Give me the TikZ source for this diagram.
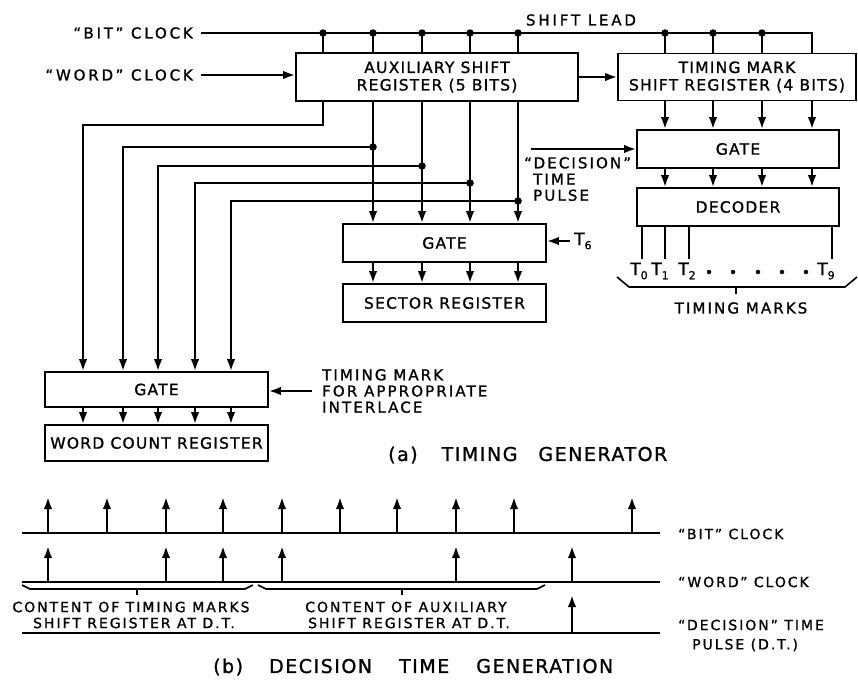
\documentclass[tikz,border=0pt]{standalone}
\usepackage{fontspec}
\setmainfont{DejaVu Sans}[LetterSpace=8,FakeBold=1.2]
\newfontfamily\boxfont{DejaVu Sans}[LetterSpace=8,FakeBold=1.2]
\newfontfamily\lblfont{DejaVu Sans}[LetterSpace=14,FakeBold=1.2]
\newfontfamily\bigfont{DejaVu Sans}[LetterSpace=19,FakeBold=1.2]
\usetikzlibrary{arrows.meta}
\newcommand\tsub[2]{#1\raisebox{-0.45ex}{\fontsize{11}{11}\selectfont #2}}
\begin{document}
\begin{tikzpicture}[x=1pt,y=-1pt,
  box/.style={draw, line width=1.6pt, inner sep=0pt, align=center, font=\boxfont\fontsize{15.5}{17.5}\selectfont},
  lbl/.style={inner sep=0pt, align=left, font=\lblfont\fontsize{15}{16.2}\selectfont},
  blbl/.style={inner sep=0pt, align=left, font=\lblfont\fontsize{14}{16}\selectfont},
  biglbl/.style={inner sep=0pt, align=left, font=\bigfont\fontsize{15}{17}\selectfont},
  tlab/.style={inner sep=0pt, font=\fontsize{17}{17}\selectfont},
  ttl/.style={inner sep=0pt, font=\fontsize{19}{21}\selectfont},
  wire/.style={line width=2.3pt},
  arr/.style={wire, -{Latex[length=12pt,width=8.5pt]}},
  thinln/.style={line width=1.6pt},
  jdot/.style={circle, fill, inner sep=0pt, minimum size=7.5pt},
  sdot/.style={circle, fill, inner sep=0pt, minimum size=4.5pt}]
\useasboundingbox (0,0) rectangle (858,680);

% ---------- boxes ----------
\node[box, minimum width=282pt, minimum height=48pt] (aux) at (437,77) {AUXILIARY SHIFT\\REGISTER (5 BITS)};
\node[box, minimum width=238pt, minimum height=47pt] (tmr) at (737,77) {TIMING MARK\\SHIFT REGISTER (4 BITS)};
\node[box, minimum width=202pt, minimum height=38pt] (tgate) at (738,149) {GATE};
\node[box, minimum width=202pt, minimum height=38pt] (dec) at (738,207) {DECODER};
\node[box, minimum width=203pt, minimum height=38pt] (sgate) at (444.5,243) {GATE};
\node[box, minimum width=203pt, minimum height=38pt] (sreg) at (444.5,303) {SECTOR REGISTER};
\node[box, minimum width=223pt, minimum height=35pt] (wgate) at (156.5,389.5) {GATE};
\node[box, minimum width=223pt, minimum height=36pt] (wreg) at (156.5,443) {WORD COUNT REGISTER};

% ---------- labels ----------
\node[biglbl, anchor=east] (bclk) at (193,33) {“BIT” CLOCK};
\node[biglbl, anchor=east] (wclk) at (193,75) {“WORD” CLOCK};
\node[biglbl] (slead) at (581,20) {SHIFT LEAD};
\node[lbl, anchor=north west] (dtp) at (524,157) {“DECISION”\\\hspace*{9pt}TIME\\\hspace*{9pt}PULSE};
\node[tlab, anchor=west] (t6) at (574,241) {\tsub{T}{6}};
\node[lbl, anchor=west] (tml) at (322,391) {TIMING MARK\\FOR APPROPRIATE\\INTERLACE};
\node[lbl] (tmarks) at (741,308) {TIMING MARKS};
\node[ttl, anchor=west] (tita) at (388,455) {(a)\hspace{24pt}TIMING\hspace{21pt}GENERATOR};

% ---------- bit clock / shift lead ----------
\coordinate (bs) at (201,33);
\coordinate (be) at (812,33);
\draw[wire] (bs) -- (be) -- (be |- tmr.north);
\foreach \x [count=\i] in {323,373,422,470,518} {
  \node[jdot] (ba\i) at (\x,33) {};
  \draw[wire] (ba\i.center) -- (ba\i |- aux.north);
}
\foreach \x [count=\i] in {665,713,762} {
  \node[jdot] (bt\i) at (\x,33) {};
  \draw[wire] (bt\i.center) -- (bt\i |- tmr.north);
}
% word clock
\coordinate (ws) at (201,75);
\draw[arr] (ws) -- (ws -| aux.west);
% aux -> timing mark register
\draw[arr] (aux.east) -- (tmr.west);

% ---------- aux outputs ----------
\coordinate (o0) at (323,125);
\coordinate (w0) at (83,125);
\draw[arr] (aux.south -| o0) -- (o0) -- (w0) -- (w0 |- wgate.north);
\foreach \x/\y/\wx [count=\i] in {373/147/123, 422/166/158, 470/183/195, 518/201/231} {
  \node[jdot] (d\i) at (\x,\y) {};
  \coordinate (w\i) at (\wx,\y);
  \draw[arr] (aux.south -| d\i) -- (d\i |- sgate.north);
  \draw[arr] (d\i.center) -- (w\i) -- (w\i |- wgate.north);
  \draw[arr] (sgate.south -| d\i) -- (d\i |- sreg.north);
}
\foreach \x [count=\i] in {83,123,158,195,231} {
  \coordinate (wc\i) at (\x,400);
  \draw[arr] (wgate.south -| wc\i) -- (wc\i |- wreg.north);
}
\draw[arr] ([xshift=-4pt]t6.west) -- (t6.west -| sgate.east);
\draw[arr] ([xshift=-10pt]tml.west) -- (tml.west -| wgate.east);

% ---------- timing mark chain ----------
\foreach \x [count=\i] in {665,713,762,812} {
  \coordinate (tc\i) at (\x,120);
  \draw[arr] (tmr.south -| tc\i) -- (tc\i |- tgate.north);
  \draw[arr] (tgate.south -| tc\i) -- (tc\i |- dec.north);
}
\coordinate (dts) at (531,149);
\draw[arr] (dts) -- (dts -| tgate.west);

% decoder outputs
\foreach \x/\lx/\s in {642/639/0, 665/660/1, 689/687/2, 832/826/9} {
  \coordinate (dl\s) at (\x,259);
  \draw[wire] (dec.south -| dl\s) -- (dl\s);
  \node[tlab] (tl\s) at (\lx,271) {\tsub{T}{\s}};
}
\foreach \x [count=\i] in {709,733,758,782,806} {
  \node[sdot] (td\i) at (\x,272) {};
}
\draw[thinln] (617,277) -- (629,287) -- (845,287) -- (857,277);
\draw[thinln] (736,287) -- (736,294);

% ---------- part (b) ----------
\draw[thinln] (22,533) -- (660,533);
\draw[thinln] (22,582) -- (660,582);
\draw[thinln] (22,633) -- (660,633);
\foreach \x in {48,107,166,223,282,340,397,456,514,632} {
  \draw[arr] (\x,533) -- (\x,497);
}
\foreach \x in {48,166,223,282,456,572} {
  \draw[arr] (\x,582) -- (\x,546);
}
\draw[arr] (572,633) -- (572,595);
\draw[thinln] (22,585) -- (30,589) -- (245,589) -- (253,585);
\draw[thinln] (137,589) -- (137,595);
\draw[thinln] (258,585) -- (266,589) -- (537,589) -- (545,585);
\draw[thinln] (402,589) -- (402,595);

\node[blbl] (c1a) at (131,607) {CONTENT OF TIMING MARKS};
\node[blbl] (c1b) at (134,623) {SHIFT REGISTER AT D.T.};
\node[blbl] (c2a) at (406,607) {CONTENT OF AUXILIARY};
\node[blbl] (c2b) at (409,623) {SHIFT REGISTER AT D.T.};
\node[blbl, anchor=west] (rb) at (678,534) {“BIT” CLOCK};
\node[blbl, anchor=west] (rw) at (678,582) {“WORD” CLOCK};
\node[blbl, anchor=west] (rd) at (678,625) {“DECISION” TIME};
\node[blbl, anchor=west] (rp) at (692,645) {PULSE (D.T.)};
\node[ttl, anchor=west] (titb) at (213,667) {(b)\hspace{26pt}DECISION\hspace{27pt}TIME\hspace{27pt}GENERATION};
\end{tikzpicture}
\end{document}
